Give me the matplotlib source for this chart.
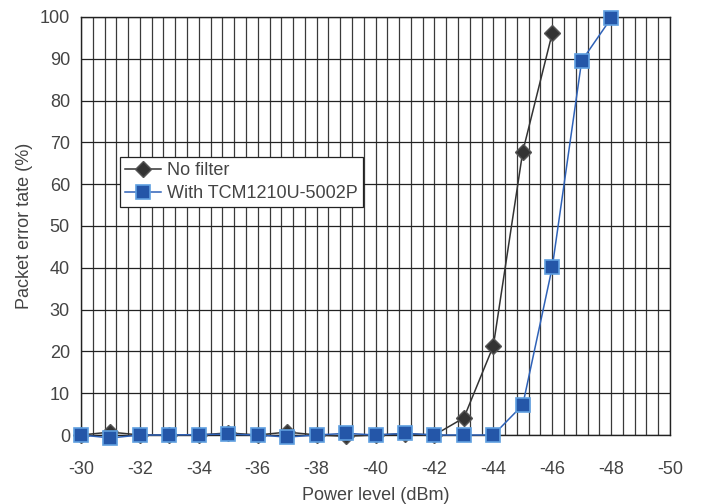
import numpy as np
import matplotlib
matplotlib.use("Agg")
import matplotlib.pyplot as plt

plt.rcParams['font.family'] = ['Liberation Sans', 'DejaVu Sans']
plt.rcParams['axes.unicode_minus'] = False

# power levels (dBm)
power = [-30, -31, -32, -33, -34, -35, -36, -37, -38, -39, -40, -41, -42, -43, -44, -45, -46, -47, -48]
# packet error rate (%)
no_filter = [0, 0.7, 0, 0, 0, 0.5, 0, 0.7, 0, -0.3, 0, 0.3, 0, 4.1, 21.3, 67.8, 96.1]
with_filter = [0, -0.7, 0, 0, 0.1, 0.2, 0, -0.5, 0, 0.4, 0, 0.4, 0, 0, 0, 7.2, 40.1, 89.5, 99.7]

x_ticks = list(range(-30, -52, -2))
y_ticks = list(range(0, 110, 10))

text_color = '#444444'

fig = plt.figure(figsize=(7.01, 5.04), dpi=100)
ax = fig.add_axes([0.1156, 0.1369, 0.8402, 0.8294])

# grid: fine vertical lines every 0.4 dBm, horizontal every 10 %
for v in np.arange(-30, -50.01, -0.4):
    ax.axvline(v, color='#3a3a3a', lw=0.9, zorder=1)
for h in y_ticks:
    ax.axhline(h, color='#222222', lw=0.9, zorder=1)

ax.plot(power[:len(no_filter)], no_filter, color='#333333', lw=1.1,
        marker='D', markersize=8.5, markerfacecolor='#333333',
        markeredgecolor='#555555', label='No filter', zorder=3, clip_on=False)
ax.plot(power[:len(with_filter)], with_filter, color='#2f62b8', lw=1.1,
        marker='s', markersize=9.5, markerfacecolor='#2456a8',
        markeredgecolor='#5f9fe0', markeredgewidth=1.2,
        label='With TCM1210U-5002P', zorder=4, clip_on=False)

ax.set_xlim(-30, -50)
ax.set_ylim(0, 100)
ax.set_xticks(x_ticks)
ax.set_yticks(y_ticks)
ax.tick_params(length=0, labelsize=13, colors=text_color)
ax.tick_params(axis='x', pad=19)
ax.tick_params(axis='y', pad=8)
for s in ax.spines.values():
    s.set_color('#222222')
    s.set_linewidth(1.0)

ax.set_xlabel('Power level (dBm)', fontsize=13, color=text_color, labelpad=6)
ax.set_ylabel('Packet error tate (%)', fontsize=13, color=text_color, labelpad=5)

leg = ax.legend(loc='upper left', bbox_to_anchor=(0.066, 0.665), fontsize=13,
                frameon=True, fancybox=False, borderaxespad=0,
                handlelength=2.0, handletextpad=0.3, borderpad=0.3,
                labelspacing=0.3, framealpha=1)
leg.get_frame().set_edgecolor('#222222')
leg.get_frame().set_linewidth(0.9)
for t in leg.get_texts():
    t.set_color(text_color)

fig.savefig('out.png', dpi=100)
